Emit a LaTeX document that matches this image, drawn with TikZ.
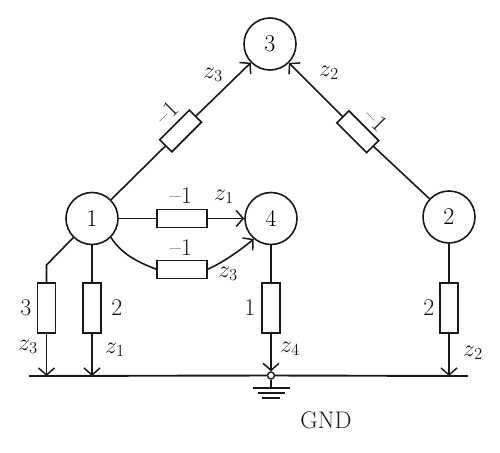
\documentclass[tikz,border=0pt]{standalone}
\usepackage{fix-cm}
\usetikzlibrary{arrows.meta}
\tikzset{
  x=1pt,y=-1pt,
  wire/.style={line width=1.6pt,draw=black!90},
  arr/.style={wire,-{Straight Barb[length=7pt,width=16pt,line width=1.5pt]}},
  bus/.style={line width=1.9pt,draw=black!90},
  busnode/.style={circle,draw=black!90,line width=1.4pt,fill=white,inner sep=0pt,minimum size=7pt},
  nd/.style={circle,draw=black!90,line width=1.6pt,fill=white,inner sep=0pt,minimum size=52pt,font=\fontsize{24}{28}\selectfont},
  res/.style={rectangle,draw=black!90,line width=1.6pt,fill=white,inner sep=0pt,outer sep=0pt,minimum width=50pt,minimum height=18pt},
  dres/.style={res,minimum width=42pt,minimum height=17pt},
  vres/.style={res,minimum width=18pt,minimum height=50pt},
  lab/.style={inner sep=0pt,font=\fontsize{24}{28}\selectfont,text=black!90},
}
\begin{document}
\begin{tikzpicture}
\useasboundingbox (0,0) rectangle (500,452);
% nodes
\node[nd] (n1) at (92,218.5) {1};
\node[nd] (n2) at (449,217) {2};
\node[nd] (n3) at (270,44) {3};
\node[nd] (n4) at (271,218.5) {4};
\node[dres,rotate=45] (r13) at (180.6,131) {};
\node[dres,rotate=-45] (r23) at (357.8,131.7) {};
\node[res] (r14a) at (182,218.5) {};
\node[res] (r14b) at (182,269.5) {};
\node[vres] (ra) at (46.5,308) {};
\node[vres] (rb) at (92,308) {};
\node[vres] (rc) at (271,308) {};
\node[vres] (rd) at (449,308) {};
% bus coordinates
\coordinate (busl) at (29,376);
\coordinate (busr) at (468,376);
\coordinate (ga) at (46.5,376);
\coordinate (gb) at (92,376);
\coordinate (gd) at (449,376);
\coordinate (kink) at (46.5,265);
\node[busnode] (g) at (271,375.5) {};
\coordinate (g1) at (271,388);
\coordinate (g1l) at (253,388);
\coordinate (g1r) at (290,388);
\coordinate (g2l) at (258,393);
\coordinate (g2r) at (285,393);
\coordinate (g3l) at (262,398);
\coordinate (g3r) at (280,398);
% connectors
\draw[bus] (busl) -- (g) -- (busr);
\draw[wire] (g) -- (g1);
\draw[wire] (g1l) -- (g1r);
\draw[wire] (g2l) -- (g2r);
\draw[wire] (g3l) -- (g3r);
\draw[wire] (n1) -- (r13);
\draw[arr] (r13) -- (n3);
\draw[wire] (n2) -- (r23);
\draw[arr] (r23) -- (n3);
\draw[wire] (n1) -- (r14a);
\draw[arr] (r14a) -- (n4);
\draw[wire] (n1.-45) .. controls (122,255) and (140,263) .. (r14b.west);
\draw[arr] (r14b.east) .. controls (222,263) and (238,252) .. (n4.-130);
\draw[wire] (n1) -- (kink) -- (ra);
\draw[wire] (n1) -- (rb);
\draw[wire] (n2) -- (rd);
\draw[wire] (n4) -- (rc);
\draw[arr] (ra) -- (ga);
\draw[arr] (rb) -- (gb);
\draw[arr] (rc) -- (g);
\draw[arr] (rd) -- (gd);
% labels
\node[lab] (t1) at (181,196) {\textendash 1};
\node[lab] (t2) at (181,248) {\textendash 1};
\node[lab,rotate=45] (t3) at (167,113) {\textendash 1};
\node[lab,rotate=-45] (t4) at (376,120) {\textendash 1};
\node[lab] (z1) at (224,197) {$z_1$};
\node[lab] (z2) at (228,274) {$z_3$};
\node[lab] (z3) at (213,75) {$z_3$};
\node[lab] (z4) at (329,73) {$z_2$};
\node[lab] (z5) at (28,347) {$z_3$};
\node[lab] (z6) at (115,350) {$z_1$};
\node[lab] (z7) at (290,349) {$z_4$};
\node[lab] (z8) at (473,353) {$z_2$};
\node[lab] (v1) at (26,308) {3};
\node[lab] (v2) at (117,308) {2};
\node[lab] (v3) at (250,308) {1};
\node[lab] (v4) at (429,308) {2};
\node[lab] (gnd) at (326,420) {GND};
\end{tikzpicture}
\end{document}
